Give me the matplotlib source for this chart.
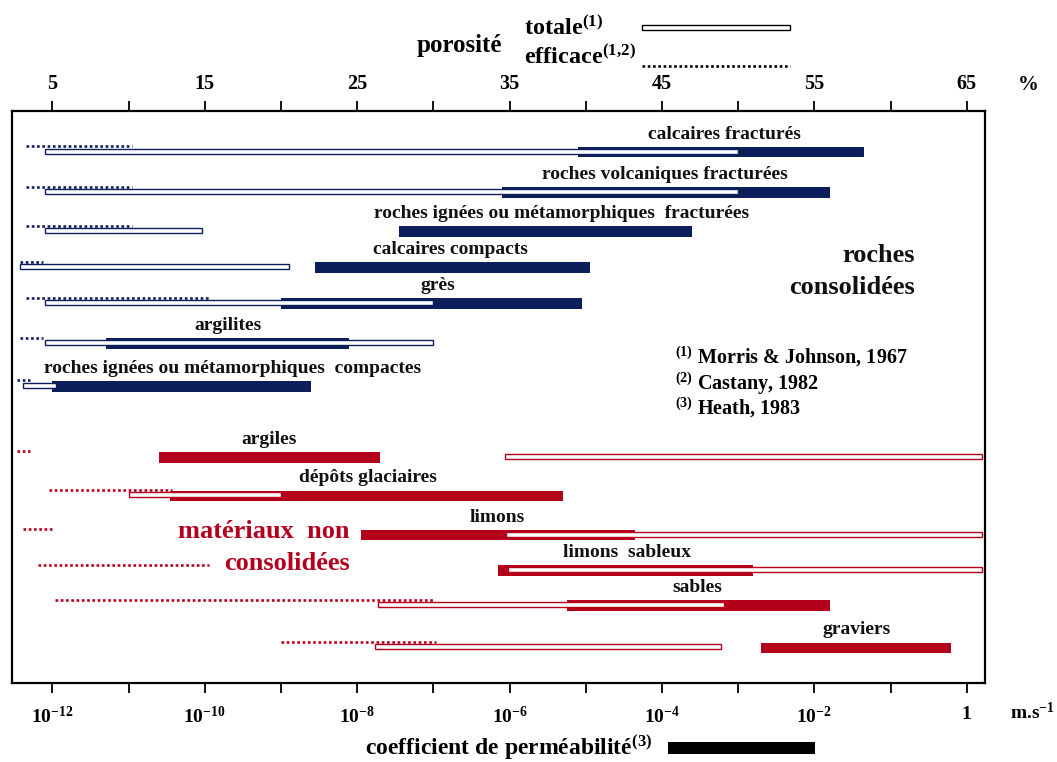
import matplotlib
matplotlib.use('Agg')
import matplotlib.pyplot as plt
from matplotlib.patches import Rectangle
from matplotlib.lines import Line2D
from matplotlib.ticker import FixedLocator, FixedFormatter, NullLocator

plt.rcParams['font.family'] = ['Liberation Serif', 'DejaVu Serif']
plt.rcParams['font.weight'] = 'bold'
plt.rcParams['mathtext.fontset'] = 'custom'
plt.rcParams['mathtext.rm'] = 'Liberation Serif:bold'
plt.rcParams['mathtext.it'] = 'Liberation Serif:bold:italic'
plt.rcParams['mathtext.bf'] = 'Liberation Serif:bold'
plt.rcParams['mathtext.default'] = 'rm'

# ---------------- data ----------------
materials = ["calcaires fracturés", "roches volcaniques fracturées",
             "roches ignées ou métamorphiques  fracturées", "calcaires compacts",
             "grès", "argilites", "roches ignées ou métamorphiques  compactes",
             "argiles", "dépôts glaciaires", "limons", "limons  sableux",
             "sables", "graviers"]
consolidated = [True] * 7 + [False] * 6

# permeability coefficient (log10 of m/s)
perm_log_min = [-5.1, -6.1, -7.45, -8.55, -9.0, -11.3, -12.0,
                -10.6, -10.45, -7.95, -6.15, -5.25, -2.7]
perm_log_max = [-1.35, -1.8, -3.6, -4.95, -5.05, -8.1, -8.6,
                -7.7, -5.3, -4.35, -2.8, -1.8, -0.2]
# total porosity (%)
por_total_min = [4.5, 4.5, 4.5, 2.9, 4.5, 4.5, 3.05, 34.7, 10.0, 34.8, 34.9, 26.4, 26.2]
por_total_max = [50.0, 50.0, 14.8, 20.5, 30.0, 30.0, 5.25, 66.0, 20.0, 66.0, 66.0, 49.1, 48.9]
# effective porosity (%)
por_eff_min = [3.3, 3.3, 3.3, 2.9, 3.3, 2.9, 2.7, 2.65, 4.75, 3.1, 4.05, 5.15, 20.0]
por_eff_max = [10.2, 10.2, 10.2, 4.4, 15.3, 4.4, 3.55, 3.55, 12.85, 5.0, 15.25, 30.0, 30.2]

top_ticks = [5, 10, 15, 20, 25, 30, 35, 40, 45, 50, 55, 60, 65]
top_labels = ['5', '', '15', '', '25', '', '35', '', '45', '', '55', '', '65']
bottom_exps = list(range(-12, 1))
bottom_labels = [r'$10^{-12}$', '', r'$10^{-10}$', '', r'$10^{-8}$', '', r'$10^{-6}$', '',
                 r'$10^{-4}$', '', r'$10^{-2}$', '', '1']

# ---------------- layout ----------------
W, H = 1057, 762
navy = '#0c1f5b'
red = '#b5001c'
row_y = [152.2, 192.5, 231.7, 267.5, 303.7, 343.7, 386.3,
         457.3, 495.8, 535.0, 570.7, 605.7, 647.8]
label_x = [49.1, 45.2, 38.4, 31.1, 30.3, 16.5, 16.8, 19.2, 25.7, 34.2, 42.7, 47.3, 57.8]

fig = plt.figure(figsize=(W / 100, H / 100), dpi=100)
ax = fig.add_axes([11.7 / W, 1 - 683 / H, (985 - 11.7) / W, (683 - 111) / H])
ax.set_xscale('log')
ax.set_xlim(10 ** -12.533, 10 ** 0.24)
ax.set_ylim(683, 111)
ax2 = ax.twiny()
ax2.set_xlim(2.335, 66.2)

for i, name in enumerate(materials):
    col = navy if consolidated[i] else red
    y = row_y[i]
    lo, hi = 10 ** perm_log_min[i], 10 ** perm_log_max[i]
    ax.barh(y, hi - lo, left=lo, height=10.5, color=col, linewidth=0)
    ax2.barh(y - 1.0, por_total_max[i] - por_total_min[i], left=por_total_min[i],
             height=5, facecolor='white', edgecolor=col, linewidth=1.0)
    ax2.plot([por_eff_min[i], por_eff_max[i]], [y - 6, y - 6], color=col,
             linestyle=(0, (1, 1)), linewidth=1.9, solid_capstyle='butt')
    ax2.text(label_x[i], y - 18, name, ha='center', va='center', fontsize=14,
             color='#111111')

# axes styling
ax.xaxis.set_major_locator(FixedLocator([10.0 ** e for e in bottom_exps]))
ax.xaxis.set_major_formatter(FixedFormatter(bottom_labels))
ax.xaxis.set_minor_locator(NullLocator())
ax.set_yticks([])
ax.tick_params(axis='x', which='major', direction='out', length=7.5, width=1.3,
               labelsize=14, pad=9, top=False, bottom=True)
ax2.xaxis.set_major_locator(FixedLocator(top_ticks))
ax2.xaxis.set_major_formatter(FixedFormatter(top_labels))
ax2.xaxis.set_minor_locator(NullLocator())
ax2.tick_params(axis='x', which='major', direction='out', length=7.5, width=1.3,
                labelsize=14.5, pad=5, top=True, bottom=False)
for sp in ax.spines.values():
    sp.set_linewidth(1.6)
for sp in ax2.spines.values():
    sp.set_visible(False)


def ftext(x, y, s, **kw):
    fig.text(x / W, 1 - y / H, s, **kw)


# axis units
ftext(1028, 85, '%', ha='center', va='center', fontsize=15)
ftext(1032, 713, r'm.s$^{-1}$', ha='center', va='center', fontsize=14)

# header legend
ftext(417, 52, 'porosité', ha='left', va='baseline', fontsize=18)
ftext(524, 35, r'totale$^{(1)}$', ha='left', va='baseline', fontsize=17.5)
ftext(524, 63.5, r'efficace$^{(1{,}2)}$', ha='left', va='baseline', fontsize=17.5)
fig.add_artist(Rectangle((642 / W, 1 - 29.5 / H), 148 / W, 4.5 / H,
                         transform=fig.transFigure, facecolor='white',
                         edgecolor='black', linewidth=1.0))
fig.add_artist(Line2D([642 / W, 790 / W], [1 - 66 / H, 1 - 66 / H],
                      transform=fig.transFigure, color='black',
                      linestyle=(0, (1, 1)), linewidth=1.9))

# bottom legend
ftext(365, 748, r'coefficient de perméabilité$^{(3)}$', ha='left', va='center', fontsize=17)
fig.add_artist(Rectangle((668 / W, 1 - 754 / H), 147 / W, 12 / H,
                         transform=fig.transFigure, facecolor='black',
                         edgecolor='none'))

# references
ftext(675, 357, r'$^{(1)}$ Morris & Johnson, 1967', ha='left', va='center', fontsize=14.5)
ftext(675, 384, r'$^{(2)}$ Castany, 1982', ha='left', va='center', fontsize=14.5)
ftext(675, 408, r'$^{(3)}$ Heath, 1983', ha='left', va='center', fontsize=14.5)

# group titles
ftext(915, 255, 'roches', ha='right', va='center', fontsize=19, color='#111111')
ftext(915, 287, 'consolidées', ha='right', va='center', fontsize=19, color='#111111')
ftext(350, 532, 'matériaux  non', ha='right', va='center', fontsize=19, color=red)
ftext(350, 563, 'consolidées', ha='right', va='center', fontsize=19, color=red)

fig.savefig('out.png', dpi=100)
